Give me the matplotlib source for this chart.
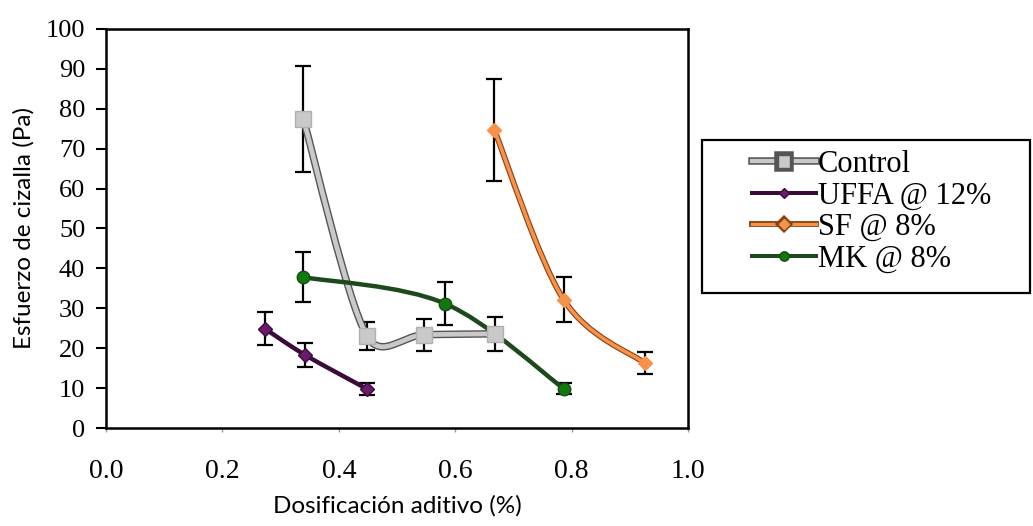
import numpy as np
import matplotlib
matplotlib.use("Agg")
import matplotlib.pyplot as plt
import matplotlib.patheffects as pe
from matplotlib.path import Path
from matplotlib.patches import PathPatch, Rectangle
from matplotlib.lines import Line2D

# datos
control_x = [0.339, 0.448, 0.547, 0.668]
control_y = [77.4, 23.1, 23.4, 23.6]
control_err = [13.3, 3.5, 4.0, 4.2]

uffa_x = [0.273, 0.342, 0.448]
uffa_y = [24.9, 18.3, 9.8]
uffa_err = [4.2, 3.0, 1.5]

sf_x = [0.667, 0.786, 0.925]
sf_y = [74.7, 32.2, 16.3]
sf_err = [12.7, 5.7, 2.7]

mk_x = [0.339, 0.582, 0.786]
mk_y = [37.8, 31.2, 9.9]
mk_err = [6.2, 5.4, 1.5]

labels = ["Control", "UFFA @ 12%", "SF @ 8%", "MK @ 8%"]
x_ticks = [0.0, 0.2, 0.4, 0.6, 0.8, 1.0]
y_ticks = list(range(0, 101, 10))

serif = "Liberation Serif"
sans = "Lato"


def smooth_path(ax, xs, ys):
    # curva suavizada (tipo Excel), calculada en pixeles
    pts = ax.transData.transform(np.column_stack([xs, ys]))
    n = len(pts)
    tang = [(pts[min(i + 1, n - 1)] - pts[max(i - 1, 0)]) / 6 for i in range(n)]
    verts = [pts[0]]
    codes = [Path.MOVETO]
    for i in range(n - 1):
        p1, p2 = pts[i], pts[i + 1]
        seg = np.hypot(*(p2 - p1))
        t1, t2 = tang[i], tang[i + 1]
        l1, l2 = np.hypot(*t1), np.hypot(*t2)
        if l1 > 0.5 * seg:
            t1 = t1 * 0.5 * seg / l1
        if l2 > 0.5 * seg:
            t2 = t2 * 0.5 * seg / l2
        verts += [p1 + t1, p2 - t2, p2]
        codes += [Path.CURVE4] * 3
    verts = ax.transData.inverted().transform(np.array(verts))
    return Path(verts, codes)


fig = plt.figure(figsize=(10.33, 5.26), dpi=100)
ax = fig.add_axes([0.1026, 0.1863, 0.5636, 0.7586])
ax.set_xlim(0, 1)
ax.set_ylim(0, 100)

series = [
    (control_x, control_y, control_err, "#c9c9c9", "#c9c9c9", "s", 12, 3.4,
     [pe.Stroke(linewidth=5.4, foreground="#555555"), pe.Normal()]),
    (uffa_x, uffa_y, uffa_err, "#3a0c3a", "#6b1b6b", "D", 7, 3.2, None),
    (sf_x, sf_y, sf_err, "#f7924a", "#f7924a", "D", 7, 2.6,
     [pe.Stroke(linewidth=4.2, foreground="#8a4010"), pe.Normal()]),
    (mk_x, mk_y, mk_err, "#1d4a1d", "#0e7a0e", "o", 9, 3.2, None),
]

handles = []
for xs, ys, errs, lc, mc, mk, ms, lw, eff in series:
    ax.errorbar(xs, ys, yerr=errs, fmt="none", ecolor="black",
                elinewidth=1.6, capsize=6, capthick=1.6, zorder=2)
    patch = PathPatch(smooth_path(ax, xs, ys), fill=False, edgecolor=lc,
                      linewidth=lw, zorder=3, capstyle="round")
    if eff:
        patch.set_path_effects(eff)
    ax.add_patch(patch)
    ax.plot(xs, ys, linestyle="none", marker=mk, markersize=ms,
            markerfacecolor=mc, markeredgecolor=lc if mk != "s" else "#b0b0b0",
            markeredgewidth=1, zorder=4)
    h = Line2D([], [], color=lc, linewidth=lw * 0.9, marker=mk,
               markersize=ms * 0.75, markerfacecolor=mc,
               markeredgecolor=lc if mk != "s" else "#555555")
    if eff:
        h.set_path_effects(eff)
    handles.append(h)

ax.set_xticks(x_ticks)
ax.set_yticks(y_ticks)
ax.set_xticklabels([f"{v:.1f}" for v in x_ticks], fontfamily=serif, fontsize=20)
ax.set_yticklabels([str(v) for v in y_ticks], fontfamily=serif, fontsize=19)
ax.tick_params(axis="y", direction="out", length=7, width=1.5, pad=8)
ax.tick_params(axis="x", direction="out", length=3, width=1, color="#999999", pad=19)
for s in ax.spines.values():
    s.set_linewidth(1.8)
    s.set_color("black")

ax.set_xlabel("Dosificación aditivo (%)", fontfamily=sans, fontsize=17.5, labelpad=8)
ax.set_ylabel("Esfuerzo de cizalla (Pa)", fontfamily=sans, fontsize=17.5, labelpad=8)

# marco de la leyenda fuera del area del grafico
fig.patches.append(Rectangle((702 / 1033, 1 - 293 / 526), 328 / 1033, 153 / 526,
                             transform=fig.transFigure, fill=False,
                             edgecolor="black", linewidth=1.6))
fig.legend(handles, labels, loc="upper left",
           bbox_to_anchor=(752 / 1033, 1 - 150 / 526), frameon=False,
           prop={"family": serif, "size": 22}, borderpad=0, borderaxespad=0,
           handlelength=2.1, handletextpad=0.05, labelspacing=0.08)

fig.savefig("out.png", dpi=100)
